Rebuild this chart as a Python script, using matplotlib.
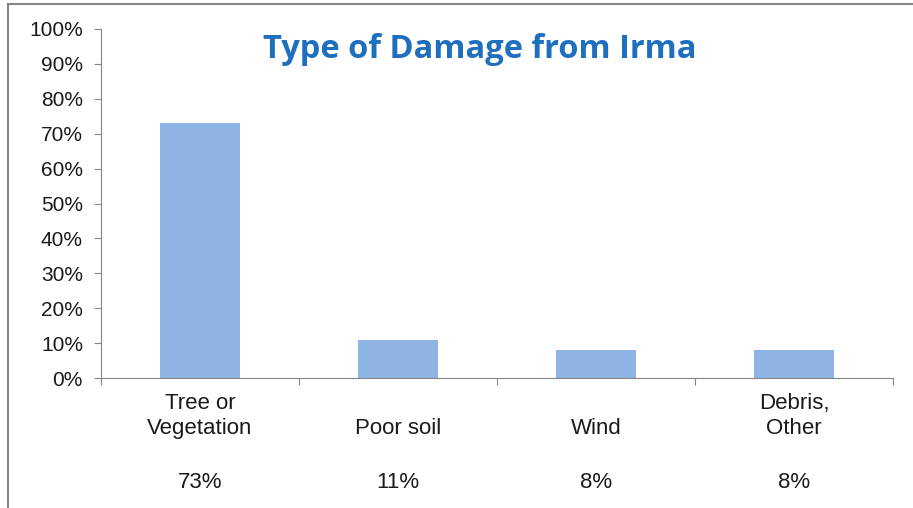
import matplotlib.pyplot as plt
from matplotlib.ticker import PercentFormatter
from matplotlib.transforms import blended_transform_factory

categorias = ["Tree or\nVegetation", "Poor soil", "Wind", "Debris,\nOther"]
valores = [73, 11, 8, 8]
etiquetas_pct = ["73%", "11%", "8%", "8%"]

plt.rcParams['font.family'] = ['Liberation Sans', 'DejaVu Sans']

W, H = 913, 508
fig = plt.figure(figsize=(W / 100, H / 100), dpi=100)

#ejes en coordenadas de pixel de la imagen original
izq, der, arriba, abajo = 101, 893, 29, 378
ax = fig.add_axes([izq / W, 1 - abajo / H, (der - izq) / W, (abajo - arriba) / H])

gris = '#868686'
texto = '#1a1a1a'
x = range(len(categorias))
ax.bar(x, valores, width=0.4, color='#8EB4E3', zorder=2)

ax.set_ylim(0, 100)
ax.set_xlim(-0.5, len(categorias) - 0.5)
ax.set_yticks(range(0, 101, 10))
ax.yaxis.set_major_formatter(PercentFormatter(decimals=0))
ax.set_xticks([i - 0.5 for i in range(len(categorias) + 1)])
ax.set_xticklabels([])
ax.tick_params(axis='y', length=5, color=gris, labelsize=15, labelcolor=texto, pad=8)
ax.tick_params(axis='x', length=5, color=gris)

for lado in ['top', 'right']:
    ax.spines[lado].set_visible(False)
ax.spines['left'].set_color(gris)
ax.spines['bottom'].set_color(gris)

#etiquetas de categorias y porcentajes (x en datos, y en pixeles de figura)
trans = blended_transform_factory(ax.transData, fig.transFigure)
for i, (cat, pct) in enumerate(zip(categorias, etiquetas_pct)):
    y_cat = 416 if '\n' in cat else 428
    ax.text(i, 1 - y_cat / H, cat, transform=trans, ha='center', va='center',
            fontsize=16, color=texto, linespacing=1.2)
    ax.text(i, 1 - 482 / H, pct, transform=trans, ha='center', va='center',
            fontsize=16, color=texto)

fig.text(480 / W, 1 - 50 / H, "Type of Damage from Irma", ha='center', va='center',
         fontsize=23.5, fontweight='bold', color='#1F6FBF', family=['Open Sans', 'DejaVu Sans'])

#marco del grafico
fig.add_artist(plt.Line2D([8 / W, 8 / W], [0, 1 - 4 / H], color=gris, lw=1.5, transform=fig.transFigure))
fig.add_artist(plt.Line2D([8 / W, 1], [1 - 4 / H, 1 - 4 / H], color=gris, lw=1.5, transform=fig.transFigure))

plt.savefig('out.png', dpi=100)
